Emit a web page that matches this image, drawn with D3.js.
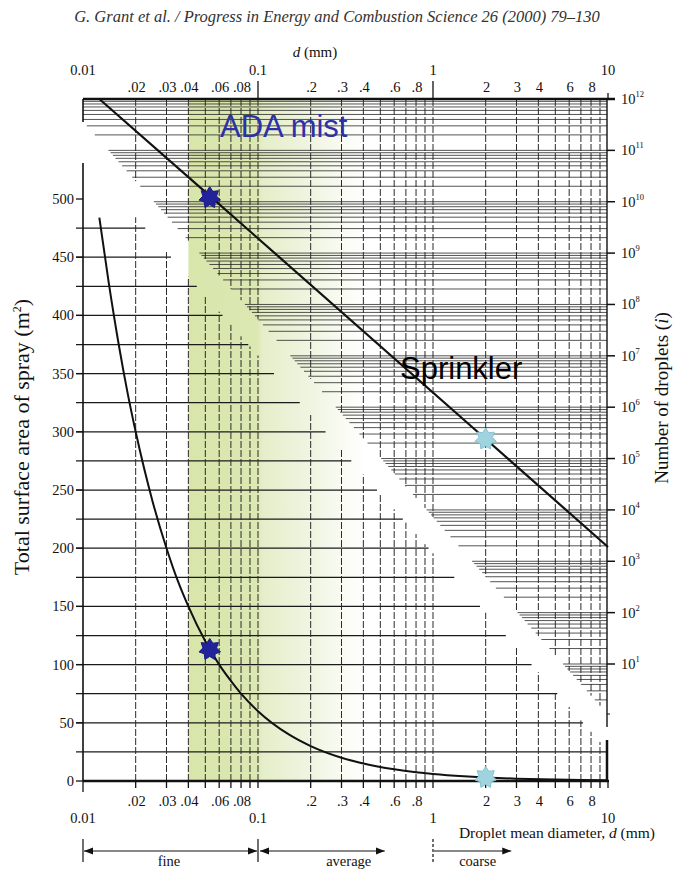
<!DOCTYPE html>
<meta charset="utf-8">
<script src="https://d3js.org/d3.v7.min.js"></script>
<style>
  body { margin: 0; background: #fff; }
  text { font-family: "Liberation Serif", "Times New Roman", serif; fill: #111; }
</style>
<div id="chart"></div>
<script>
const width = 675, height = 870;

// diameter grid / tick values (mm)
const dGrid = [0.01, 0.02, 0.03, 0.04, 0.05, 0.06, 0.07, 0.08, 0.09,
               0.1, 0.2, 0.3, 0.4, 0.5, 0.6, 0.7, 0.8, 0.9,
               1, 2, 3, 4, 5, 6, 7, 8, 9, 10];
const dMajor = [0.01, 0.1, 1, 10];
const dMajorLabels = ["0.01", "0.1", "1", "10"];
const dMinor = [0.02, 0.03, 0.04, 0.06, 0.08, 0.2, 0.3, 0.4, 0.6, 0.8, 2, 3, 4, 6, 8];
const dMinorLabels = [".02", ".03", ".04", ".06", ".08", ".2", ".3", ".4", ".6", ".8", "2", "3", "4", "6", "8"];

// left axis: total surface area (m2)
const areaTicks = [0, 50, 100, 150, 200, 250, 300, 350, 400, 450, 500];
const areaGrid = [25, 50, 75, 100, 125, 150, 175, 200, 225, 250, 275, 300, 325, 350, 375, 400, 425, 450, 475];

// right axis: number of droplets, decades
const countExponents = [1, 2, 3, 4, 5, 6, 7, 8, 9, 10, 11, 12];
const gridMantissas = [1, 2, 3, 4, 5, 6, 7, 8, 9];
const gridExponents = [0, 1, 2, 3, 4, 5, 6, 7, 8, 9, 10, 11];

// surface area curve
const areaD = [0.0124, 0.014, 0.016, 0.018, 0.02, 0.025, 0.03, 0.035, 0.04, 0.05, 0.06, 0.07, 0.08,
               0.1, 0.15, 0.2, 0.3, 0.4, 0.6, 0.8, 1, 1.5, 2, 3, 5, 7, 10];
const areaValues = [484, 429, 375, 333, 300, 240, 200, 171, 150, 120, 100, 86, 75,
                    60, 40, 30, 20, 15, 10, 7.5, 6, 4, 3, 2, 1.2, 0.86, 0.6];

// number of droplets line
const countD = [0.0124, 0.053, 2, 10];
const countValues = [1e12, 1.3e10, 2.4e5, 1.9e3];

// marked sprays
const starD = [0.053, 2];
const starArea = [113, 3];
const starCount = [1.2e10, 2.4e5];
const starColors = ["#22229a", "#9fd4de"];

// size classes under the axis
const classNames = ["fine", "average", "coarse"];
const classFrom = [0.01, 0.1, 1];
const classTo = [0.1, 0.53, 2.8];
const classLabelD = [0.031, 0.33, 1.8];

const svg = d3.select("#chart").append("svg")
  .attr("width", width)
  .attr("height", height);

const pLeft = 83, pRight = 607, pTop = 99, pBottom = 781;

const x = d3.scaleLog().domain([0.01, 10]).range([pLeft, 608]);
const yArea = d3.scaleLinear().domain([0, 500]).range([pBottom, 199]);
const yCount = d3.scaleLog().domain([1e1, 1e12]).range([664, pTop]);

// diagonal edges of the two grids
const upperEdge = y => 63 + (y - pTop) * 0.885;   // x where upper grid starts
const lowerEdge = y => 31 + (y - pTop) * 0.885;   // x where lower grid ends
const upperEdgeY = px => pTop + (px - 63) / 0.885;
const lowerEdgeY = px => pTop + (px - 31) / 0.885;

// green "ADA mist" band
const defs = svg.append("defs");
const grad = defs.append("linearGradient").attr("id", "mist")
  .attr("x1", "0%").attr("x2", "100%").attr("y1", "0%").attr("y2", "0%");
grad.append("stop").attr("offset", "0%").attr("stop-color", "#d8e6ab");
grad.append("stop").attr("offset", "39%").attr("stop-color", "#dbe8b2");
grad.append("stop").attr("offset", "42%").attr("stop-color", "#e5eec9");
grad.append("stop").attr("offset", "70%").attr("stop-color", "#f0f5e2");
grad.append("stop").attr("offset", "100%").attr("stop-color", "#ffffff");

svg.append("rect")
  .attr("x", x(0.04)).attr("y", pTop)
  .attr("width", 365 - x(0.04)).attr("height", pBottom - pTop)
  .attr("fill", "url(#mist)");

// upper grid: horizontal log lines
const countGrid = [];
gridExponents.forEach(e => gridMantissas.forEach(m => countGrid.push(m * Math.pow(10, e))));
const gUp = svg.append("g");
gUp.selectAll("line.h")
  .data(countGrid.filter(v => upperEdge(yCount(v)) < pRight - 2))
  .join("line")
    .attr("x1", v => Math.max(pLeft, upperEdge(yCount(v))))
    .attr("x2", pRight)
    .attr("y1", v => yCount(v))
    .attr("y2", v => yCount(v))
    .attr("stroke", "#1e1e1e")
    .attr("stroke-width", 0.9)
    .attr("stroke-opacity", 0.85);

// upper grid: verticals
gUp.selectAll("line.v")
  .data(dGrid.slice(1, -1))
  .join("line")
    .attr("x1", d => x(d)).attr("x2", d => x(d))
    .attr("y1", pTop)
    .attr("y2", d => Math.min(715, upperEdgeY(x(d))))
    .attr("stroke", "#2a2a2a")
    .attr("stroke-width", 1)
    .attr("stroke-dasharray", "7,2");

// lower grid: horizontal lines every 25
const gLow = svg.append("g");
gLow.selectAll("line.h")
  .data(areaGrid)
  .join("line")
    .attr("x1", pLeft - 7)
    .attr("x2", v => Math.min(pRight, lowerEdge(yArea(v))))
    .attr("y1", v => yArea(v))
    .attr("y2", v => yArea(v))
    .attr("stroke", "#1a1a1a")
    .attr("stroke-width", 1.25);

gLow.selectAll("line.v")
  .data(dGrid.slice(1, -1))
  .join("line")
    .attr("x1", d => x(d)).attr("x2", d => x(d))
    .attr("y1", pBottom)
    .attr("y2", d => lowerEdgeY(x(d)))
    .attr("stroke", "#2a2a2a")
    .attr("stroke-width", 1)
    .attr("stroke-dasharray", "7,2");

// axes lines
const axes = svg.append("g").attr("stroke", "#111").attr("fill", "none");
axes.append("line").attr("x1", pLeft).attr("x2", 615).attr("y1", pTop).attr("y2", pTop).attr("stroke-width", 2.5);
axes.append("line").attr("x1", pLeft).attr("x2", 609).attr("y1", pBottom).attr("y2", pBottom).attr("stroke-width", 2.5);
axes.append("line").attr("x1", pLeft).attr("x2", pLeft).attr("y1", pTop).attr("y2", 122).attr("stroke-width", 1.6);
axes.append("line").attr("x1", pLeft).attr("x2", pLeft).attr("y1", 163).attr("y2", pBottom).attr("stroke-width", 1.6);
axes.append("line").attr("x1", pRight).attr("x2", pRight).attr("y1", pTop).attr("y2", 727).attr("stroke-width", 1.4);
axes.append("line").attr("x1", pRight).attr("x2", pRight).attr("y1", 740).attr("y2", pBottom).attr("stroke-width", 2.5);

// top ticks
axes.selectAll("line.tt")
  .data([0.1, 1, 10])
  .join("line")
    .attr("x1", d => x(d)).attr("x2", d => x(d))
    .attr("y1", pTop).attr("y2", d => d === 10 ? pTop - 6 : pTop - 18)
    .attr("stroke-width", 1.3);

// bottom ticks
axes.selectAll("line.bt")
  .data(dGrid)
  .join("line")
    .attr("x1", d => x(d)).attr("x2", d => x(d))
    .attr("y1", pBottom).attr("y2", d => d === 0.01 ? pBottom + 11 : pBottom + 7)
    .attr("stroke-width", 1.3);

// left ticks
axes.selectAll("line.lt")
  .data(areaTicks)
  .join("line")
    .attr("x1", pLeft - 7).attr("x2", pLeft)
    .attr("y1", v => yArea(v)).attr("y2", v => yArea(v))
    .attr("stroke-width", 1.3);

// right ticks
axes.selectAll("line.rt")
  .data(countExponents)
  .join("line")
    .attr("x1", pRight).attr("x2", pRight + 8)
    .attr("y1", e => yCount(Math.pow(10, e))).attr("y2", e => yCount(Math.pow(10, e)))
    .attr("stroke-width", 1.5);
axes.append("line").attr("x1", pRight).attr("x2", pRight + 3).attr("y1", 714).attr("y2", 714).attr("stroke-width", 1);

// tick labels
const lab = svg.append("g").attr("font-size", 14.5);
lab.selectAll("text.tmaj").data(dMajor).join("text")
  .attr("x", d => x(d)).attr("y", 75).attr("text-anchor", "middle")
  .text((d, i) => dMajorLabels[i]);
lab.selectAll("text.tmin").data(dMinor).join("text")
  .attr("x", d => x(d) + 1).attr("y", 92).attr("text-anchor", "middle")
  .text((d, i) => dMinorLabels[i]);
lab.selectAll("text.bmin").data(dMinor).join("text")
  .attr("x", d => x(d) + 1).attr("y", 806).attr("text-anchor", "middle")
  .text((d, i) => dMinorLabels[i]);
lab.selectAll("text.bmaj").data(dMajor).join("text")
  .attr("x", d => x(d)).attr("y", 823).attr("text-anchor", "middle")
  .text((d, i) => dMajorLabels[i]);
lab.selectAll("text.l").data(areaTicks).join("text")
  .attr("x", pLeft - 9).attr("y", v => yArea(v) + 5).attr("text-anchor", "end")
  .text(v => v);
const rt = lab.selectAll("text.r").data(countExponents).join("text")
  .attr("x", pRight + 14).attr("y", e => yCount(Math.pow(10, e)) + 5);
rt.append("tspan").text("10");
rt.append("tspan").attr("font-size", 8.5).attr("dy", -7).text(e => e);

// axis titles
const dmm = svg.append("text").attr("x", 315).attr("y", 57).attr("text-anchor", "middle").attr("font-size", 15);
dmm.append("tspan").attr("font-style", "italic").text("d");
dmm.append("tspan").text(" (mm)");

const dt = svg.append("text").attr("x", 655).attr("y", 838).attr("text-anchor", "end").attr("font-size", 15.5);
dt.append("tspan").text("Droplet mean diameter, ");
dt.append("tspan").attr("font-style", "italic").text("d");
dt.append("tspan").text(" (mm)");

const lt = svg.append("text").attr("transform", "translate(29,437) rotate(-90)")
  .attr("text-anchor", "middle").attr("font-size", 22);
lt.append("tspan").text("Total surface area of spray (m");
lt.append("tspan").attr("font-size", 12).attr("dy", -8).text("2");
lt.append("tspan").attr("dy", 8).text(")");

const rtt = svg.append("text").attr("transform", "translate(668,398) rotate(-90)")
  .attr("text-anchor", "middle").attr("font-size", 19);
rtt.append("tspan").text("Number of droplets (");
rtt.append("tspan").attr("font-style", "italic").text("i");
rtt.append("tspan").text(")");

svg.append("text").attr("x", 337).attr("y", 22).attr("text-anchor", "middle")
  .attr("font-size", 16.5).attr("font-style", "italic").style("fill", "#333")
  .text("G. Grant et al. / Progress in Energy and Combustion Science 26 (2000) 79\u2013130");

// curves
svg.append("path")
  .datum(areaD.map((d, i) => [d, areaValues[i]]))
  .attr("fill", "none").attr("stroke", "#111").attr("stroke-width", 2)
  .attr("d", d3.line().x(p => x(p[0])).y(p => yArea(p[1])).curve(d3.curveMonotoneX));

svg.append("path")
  .datum(countD.map((d, i) => [d, countValues[i]]))
  .attr("fill", "none").attr("stroke", "#111").attr("stroke-width", 2.2)
  .attr("d", d3.line().x(p => x(p[0])).y(p => yCount(p[1])));

// stars
function starPath(n, R, r) {
  const pts = d3.range(2 * n).map(i => {
    const a = i * Math.PI / n - Math.PI / 2;
    const rad = i % 2 ? r : R;
    return [rad * Math.cos(a), rad * Math.sin(a)];
  });
  return "M" + pts.join("L") + "Z";
}
const stars = svg.append("g");
starD.forEach((d, i) => {
  [yArea(starArea[i]), yCount(starCount[i])].forEach(py => {
    stars.append("path")
      .attr("transform", `translate(${x(d)},${py})`)
      .attr("d", starPath(7, 11, 7))
      .attr("fill", starColors[i])
      .attr("stroke", i === 0 ? "#1a1a80" : "#8ac3cf")
      .attr("stroke-width", 1);
  });
});

// annotations
svg.append("text").attr("x", 220).attr("y", 137).attr("font-size", 31)
  .style("font-family", "'Liberation Sans', Arial, sans-serif").style("fill", "#2f2fa8")
  .text("ADA mist");
svg.append("text").attr("x", 400).attr("y", 379).attr("font-size", 31)
  .style("font-family", "'Liberation Sans', Arial, sans-serif").style("fill", "#000")
  .text("Sprinkler");

// size class arrows
defs.append("marker").attr("id", "ah").attr("viewBox", "0 0 10 10")
  .attr("refX", 10).attr("refY", 5).attr("markerWidth", 9).attr("markerHeight", 9)
  .attr("orient", "auto-start-reverse").attr("markerUnits", "userSpaceOnUse")
  .append("path").attr("d", "M0,1L10,5L0,9Z").attr("fill", "#111");

const cls = svg.append("g");
cls.selectAll("line.sep").data(classFrom).join("line")
  .attr("x1", d => x(d)).attr("x2", d => x(d))
  .attr("y1", 839).attr("y2", 862)
  .attr("stroke", "#111").attr("stroke-width", 1.2)
  .attr("stroke-dasharray", (d, i) => i === 2 ? "3,2" : null);
cls.selectAll("line.arr").data(classNames).join("line")
  .attr("x1", (c, i) => x(classFrom[i]) + (i === 1 ? 2 : 1))
  .attr("x2", (c, i) => x(classTo[i]) - (i === 0 ? 1 : 0))
  .attr("y1", 851).attr("y2", 851)
  .attr("stroke", "#111").attr("stroke-width", 1.2)
  .attr("marker-end", "url(#ah)")
  .attr("marker-start", (c, i) => i < 2 ? "url(#ah)" : null);
cls.selectAll("text").data(classNames).join("text")
  .attr("x", (c, i) => x(classLabelD[i])).attr("y", 866)
  .attr("text-anchor", "middle").attr("font-size", 14.5)
  .text(c => c);
</script>
